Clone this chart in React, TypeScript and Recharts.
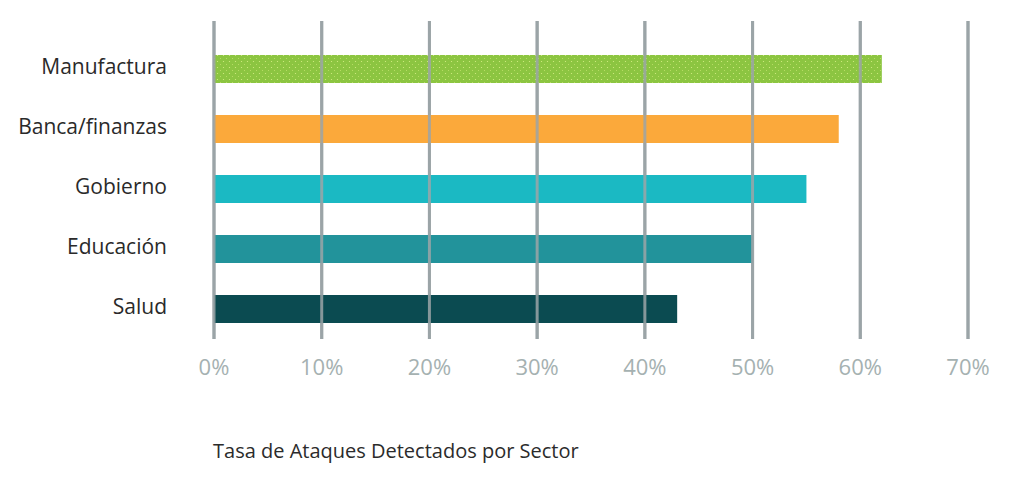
import { BarChart, Bar, XAxis, YAxis, CartesianGrid, ReferenceLine, Cell } from 'recharts'

const sectores = ['Manufactura', 'Banca/finanzas', 'Gobierno', 'Educación', 'Salud']
const tasas = [62, 58, 55, 50, 43]
const colores = ['url(#puntos)', '#fba93b', '#1bb9c3', '#22939b', '#0b4b51']
const marcas = [0, 10, 20, 30, 40, 50, 60, 70]
const titulo = 'Tasa de Ataques Detectados por Sector'

const data = sectores.map((sector, i) => ({ sector, tasa: tasas[i] }))

const font = '"Open Sans", sans-serif'

function SectorTick(props: any) {
  const { x, y, payload } = props
  return (
    <text x={x} y={y} dy={-3} textAnchor="end" dominantBaseline="central" fontSize={21} fill="#2a2a2a" fontFamily={font}>
      {payload.value}
    </text>
  )
}

export default function App() {
  return (
    <div style={{ position: 'absolute', left: 0, top: 0, width: 1024, height: 483, background: '#fff', fontFamily: font }}>
      <BarChart
        width={1024}
        height={483}
        data={data}
        layout="vertical"
        margin={{ top: 21, right: 56, bottom: 0, left: 0 }}
      >
        <defs>
          <pattern id="puntos" width="6" height="6" patternUnits="userSpaceOnUse">
            <rect width="6" height="6" fill="#8cc541" />
            <circle cx="1.5" cy="1.5" r="0.6" fill="#d6ee86" />
            <circle cx="4.5" cy="4.5" r="0.5" fill="#c4e46e" />
          </pattern>
        </defs>
        <CartesianGrid horizontal={false} stroke="#9ba4a7" strokeWidth={3} />
        <XAxis
          type="number"
          domain={[0, 70]}
          ticks={marcas}
          tickFormatter={(v: number) => `${v}%`}
          axisLine={false}
          tickLine={false}
          tickSize={0}
          tickMargin={20}
          height={144}
          tick={{ fontSize: 22, fill: '#a5b1b1', fontFamily: font }}
        />
        <YAxis
          type="category"
          dataKey="sector"
          width={214}
          axisLine={false}
          tickLine={false}
          tickSize={0}
          tickMargin={47}
          padding={{ top: 18, bottom: 0 }}
          tick={<SectorTick />}
        />
        <Bar dataKey="tasa" barSize={28} isAnimationActive={false}>
          {data.map((d, i) => (
            <Cell key={d.sector} fill={colores[i]} />
          ))}
        </Bar>
        {marcas.map((m) => (
          <ReferenceLine key={m} x={m} stroke="#9ba4a7" strokeWidth={3} strokeOpacity={0.85} />
        ))}
      </BarChart>
      <div
        style={{
          position: 'absolute',
          left: 213,
          top: 441,
          fontSize: 20,
          lineHeight: '20px',
          color: '#2b2b2b',
          fontFamily: font,
        }}
      >
        {titulo}
      </div>
    </div>
  )
}
